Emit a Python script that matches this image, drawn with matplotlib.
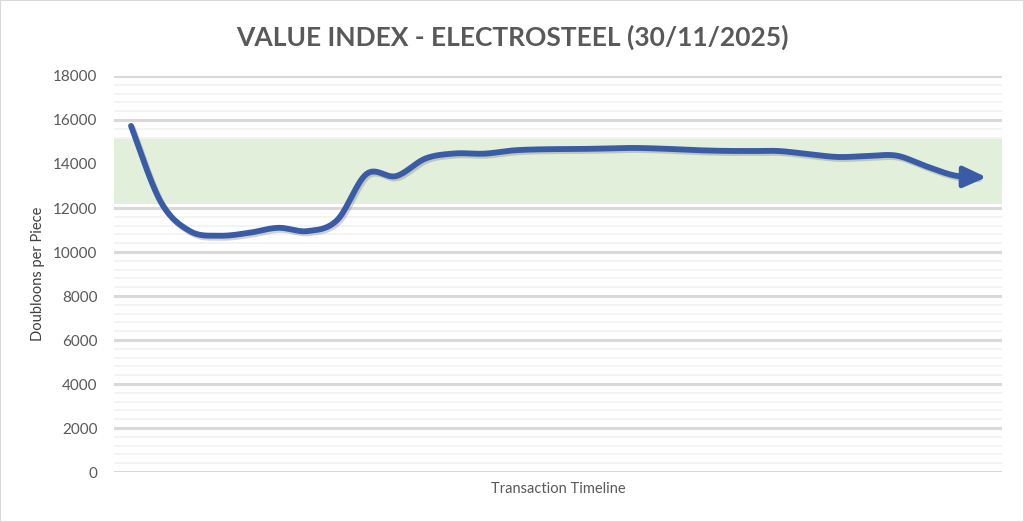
import matplotlib
matplotlib.use("Agg")
import matplotlib.pyplot as plt
import matplotlib.patheffects as pe
from matplotlib.patches import FancyArrowPatch, Rectangle
import numpy as np

# ---- data ----
title = "VALUE INDEX - ELECTROSTEEL (30/11/2025)"
x_label = "Transaction Timeline"
y_label = "Doubloons per Piece"
values = [15730, 12300, 10950, 10740, 10870, 11100, 10950, 11450, 13550, 13450,
          14250, 14480, 14470, 14620, 14670, 14680, 14700, 14730, 14700, 14640,
          14600, 14590, 14590, 14450, 14320, 14360, 14380, 13900, 13470, 13400]
band_low = 12200
band_high = 15150
y_ticks = [0, 2000, 4000, 6000, 8000, 10000, 12000, 14000, 16000, 18000]

# ---- smoothing (Excel-like Bezier through points) ----
def smooth(xs, ys, n=30):
    xs = np.asarray(xs, float); ys = np.asarray(ys, float)
    P = np.column_stack([xs, ys])
    out = []
    m = len(P)
    for i in range(m - 1):
        p0 = P[i - 1] if i > 0 else P[i]
        p1 = P[i]; p2 = P[i + 1]
        p3 = P[i + 2] if i + 2 < m else P[i + 1]
        c1 = p1 + (p2 - p0) / 6.0
        c2 = p2 - (p3 - p1) / 6.0
        t = np.linspace(0, 1, n, endpoint=False)[:, None]
        seg = ((1 - t) ** 3) * p1 + 3 * ((1 - t) ** 2) * t * c1 + 3 * (1 - t) * t ** 2 * c2 + t ** 3 * p2
        out.append(seg)
    out.append(P[-1:])
    A = np.vstack(out)
    return A[:, 0], A[:, 1]

xs = np.arange(len(values))
sx, sy = smooth(xs, values)

fig = plt.figure(figsize=(10.24, 5.22), dpi=100)
fig.patches.append(Rectangle((0, 0), 1, 1, transform=fig.transFigure, fill=False,
                             edgecolor="#D9D9D9", lw=1.5))
ax = fig.add_axes([114 / 1024, 50 / 522, 888 / 1024, 396 / 522])

n = len(values)
margin = 17 / 852 * (n - 1)
ax.set_xlim(-margin, n - 1 + margin)
ax.set_ylim(0, 18000)

# gridlines
for v in np.arange(0, 18001, 400):
    if v % 2000 == 0:
        ax.axhline(v, color="#D9D9D9", lw=2.2, zorder=1)
    else:
        ax.axhline(v, color="#F2F2F2", lw=1.3, zorder=0.8)

# band (covers gridlines)
ax.axhspan(band_low, band_high, color="#E2EFDA", zorder=1.5, lw=0)

line_color = "#3A5CA7"
shadow = [pe.SimpleLineShadow(offset=(1.2, -1.5), shadow_color="#7F7F7F", alpha=0.35),
          pe.Normal()]
cut = len(sx) - 10
ax.plot(sx[:cut], sy[:cut], color=line_color, lw=4.2, solid_capstyle="round",
        zorder=3, path_effects=shadow)
arrow = FancyArrowPatch((sx[cut - 1], sy[cut - 1]), (sx[-1] + 0.05, sy[-1]),
                        arrowstyle="-|>,head_length=0.7,head_width=0.32",
                        mutation_scale=20, color=line_color, lw=3.5, zorder=3,
                        shrinkA=0, shrinkB=0)
ax.add_patch(arrow)

for s in ax.spines.values():
    s.set_visible(False)
ax.set_xticks([])
ax.set_yticks(y_ticks)
ax.set_yticklabels([str(t) for t in y_ticks])
ax.tick_params(axis="y", length=0, pad=12, labelsize=11, labelcolor="#595959")
for lab in ax.get_yticklabels():
    lab.set_family("Lato")

ax.set_xlabel(x_label, fontsize=10.5, color="#595959", family="Lato", labelpad=7)
ax.set_ylabel(y_label, fontsize=10.5, color="#404040", family="Lato", labelpad=6)

fig.text(0.5, 1 - 37 / 522, title, ha="center", va="center", fontsize=19,
         fontweight="bold", color="#595959", family="Lato")

fig.savefig("out.png", dpi=100)
